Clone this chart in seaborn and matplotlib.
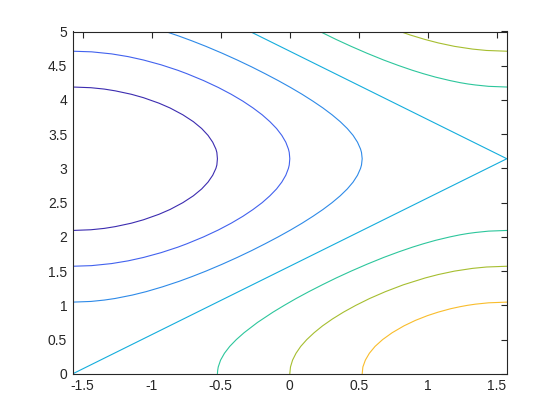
import matplotlib
matplotlib.use("Agg")
import matplotlib.pyplot as plt
import seaborn as sns

# contour levels and their line colours
levels = [-1.5, -1.0, -0.5, 0.0, 0.5, 1.0, 1.5]
level_colors = ["#3c2cb0", "#4262ee", "#2e8ae8", "#14addc", "#2dc69c", "#a6be30", "#f9bd2c"]

# traced contour lines, each one as (y, x) points
m15_y = [2.094, 2.104, 2.124, 2.15, 2.2, 2.25, 2.33, 2.4, 2.5, 2.6, 2.7, 2.8, 2.9, 3.0, 3.05, 3.1416,
         3.233, 3.283, 3.383, 3.483, 3.583, 3.683, 3.783, 3.883, 3.953, 4.033, 4.083, 4.133, 4.159, 4.179, 4.189]
m15_x = [-1.571, -1.44, -1.343, -1.263, -1.147, -1.059, -0.947, -0.867, -0.774, -0.698, -0.638, -0.592, -0.558, -0.535, -0.528, -0.524,
         -0.528, -0.535, -0.558, -0.592, -0.638, -0.698, -0.774, -0.867, -0.947, -1.059, -1.147, -1.263, -1.343, -1.44, -1.571]

m10_y = [1.571, 1.58, 1.61, 1.65, 1.7, 1.77, 1.85, 1.9, 2.0, 2.1, 2.2, 2.3, 2.4, 2.5, 2.6, 2.7, 2.8, 2.9, 3.0, 3.05, 3.1416,
         3.233, 3.283, 3.383, 3.483, 3.583, 3.683, 3.783, 3.883, 3.983, 4.083, 4.183, 4.283, 4.383, 4.433, 4.513, 4.583,
         4.633, 4.673, 4.703, 4.712]
m10_x = [-1.571, -1.435, -1.29, -1.17, -1.058, -0.931, -0.81, -0.744, -0.624, -0.518, -0.424, -0.34, -0.266, -0.2, -0.144, -0.096, -0.058, -0.029, -0.01, -0.004, 0.0,
         -0.004, -0.01, -0.029, -0.058, -0.096, -0.144, -0.2, -0.266, -0.34, -0.424, -0.518, -0.624, -0.744, -0.81, -0.931, -1.058,
         -1.17, -1.29, -1.435, -1.571]

m05_y = [1.047, 1.057, 1.077, 1.1, 1.15, 1.2, 1.27, 1.35, 1.42, 1.5, 1.6, 1.7, 1.8, 1.9, 2.0, 2.1, 2.2, 2.3, 2.4, 2.5, 2.6,
         2.7, 2.8, 2.9, 3.0, 3.05, 3.1416,
         3.233, 3.283, 3.383, 3.483, 3.583, 3.683, 3.783, 3.883, 3.983, 4.083, 4.183, 4.283, 4.383, 4.483, 4.583, 4.683,
         4.783, 4.863, 4.933, 5.0]
m05_x = [-1.571, -1.439, -1.343, -1.265, -1.14, -1.04, -0.922, -0.802, -0.708, -0.607, -0.49, -0.38, -0.276, -0.178, -0.084, 0.005, 0.089, 0.167, 0.24, 0.306, 0.365,
         0.416, 0.458, 0.49, 0.512, 0.519, 0.524,
         0.519, 0.512, 0.49, 0.458, 0.416, 0.365, 0.306, 0.24, 0.167, 0.089, 0.005, -0.084, -0.178, -0.276, -0.38, -0.49,
         -0.607, -0.708, -0.802, -0.90]

z00_y = [0.0, 3.1416, 5.0]
z00_x = [-1.571, 1.571, -0.288]

p05a_y = [0.0, 0.05, 0.1, 0.2, 0.3, 0.4, 0.5, 0.6, 0.75, 0.9, 1.0, 1.1, 1.2, 1.3, 1.4, 1.5, 1.6, 1.7, 1.78, 1.85,
          1.9, 1.95, 2.0, 2.03, 2.05, 2.064, 2.084, 2.094]
p05a_x = [-0.524, -0.522, -0.518, -0.501, -0.473, -0.435, -0.387, -0.331, -0.234, -0.122, -0.04, 0.046, 0.138, 0.235, 0.336, 0.444, 0.558, 0.68, 0.787, 0.888,
          0.968, 1.056, 1.16, 1.232, 1.291, 1.343, 1.439, 1.571]
p05b_y = [4.189, 4.199, 4.219, 4.233, 4.253, 4.283, 4.333, 4.383, 4.433, 4.503, 4.583, 4.683, 4.783, 4.883, 4.983, 5.0]
p05b_x = [1.571, 1.439, 1.343, 1.291, 1.232, 1.16, 1.056, 0.968, 0.888, 0.787, 0.68, 0.558, 0.444, 0.336, 0.235, 0.218]

p10a_y = [0.0, 0.1, 0.2, 0.3, 0.4, 0.5, 0.6, 0.7, 0.8, 0.9, 1.0, 1.1, 1.2, 1.3, 1.4, 1.45, 1.5, 1.54, 1.56, 1.571]
p10a_x = [0.0, 0.005, 0.02, 0.045, 0.079, 0.123, 0.176, 0.237, 0.308, 0.388, 0.478, 0.578, 0.692, 0.822, 0.98, 1.075, 1.192, 1.323, 1.424, 1.571]
p10b_y = [4.712, 4.723, 4.743, 4.783, 4.833, 4.883, 4.95, 5.0]
p10b_x = [1.571, 1.424, 1.323, 1.192, 1.075, 0.98, 0.87, 0.799]

p15_y = [0.0, 0.1, 0.2, 0.3, 0.4, 0.5, 0.6, 0.7, 0.78, 0.85, 0.9, 0.95, 0.98, 1.0, 1.017, 1.037, 1.047]
p15_x = [0.524, 0.529, 0.547, 0.576, 0.617, 0.672, 0.741, 0.826, 0.909, 0.997, 1.073, 1.163, 1.232, 1.286, 1.343, 1.439, 1.571]

xtick_vals = [-1.5, -1.0, -0.5, 0.0, 0.5, 1.0, 1.5]
xtick_labels = ["-1.5", "-1", "-0.5", "0", "0.5", "1", "1.5"]
ytick_vals = [0, 0.5, 1, 1.5, 2, 2.5, 3, 3.5, 4, 4.5, 5]
ytick_labels = ["0", "0.5", "1", "1.5", "2", "2.5", "3", "3.5", "4", "4.5", "5"]

sns.set_style("white")
plt.rcParams["font.family"] = ["Liberation Sans", "DejaVu Sans"]
plt.rcParams["axes.unicode_minus"] = False

fig = plt.figure(figsize=(5.6, 4.2), dpi=100)
ax = fig.add_axes([0.13, 0.11, 0.775, 0.815])

curves = [
    (m15_x, m15_y, 0),
    (m10_x, m10_y, 1),
    (m05_x, m05_y, 2),
    (z00_x, z00_y, 3),
    (p05a_x, p05a_y, 4),
    (p05b_x, p05b_y, 4),
    (p10a_x, p10a_y, 5),
    (p10b_x, p10b_y, 5),
    (p15_x, p15_y, 6),
]
for xs, ys, k in curves:
    sns.lineplot(x=xs, y=ys, sort=False, estimator=None, color=level_colors[k],
                 linewidth=0.8, ax=ax)

ax.set_xlim(-1.5708, 1.5708)
ax.set_ylim(0, 5)
ax.set_xticks(xtick_vals)
ax.set_xticklabels(xtick_labels)
ax.set_yticks(ytick_vals)
ax.set_yticklabels(ytick_labels)
ax.tick_params(direction="in", length=4, width=0.8, top=True, right=True,
               labelsize=10, colors="#262626", pad=4)
for s in ax.spines.values():
    s.set_color("#262626")
    s.set_linewidth(0.8)

fig.savefig("out.png", dpi=100)
